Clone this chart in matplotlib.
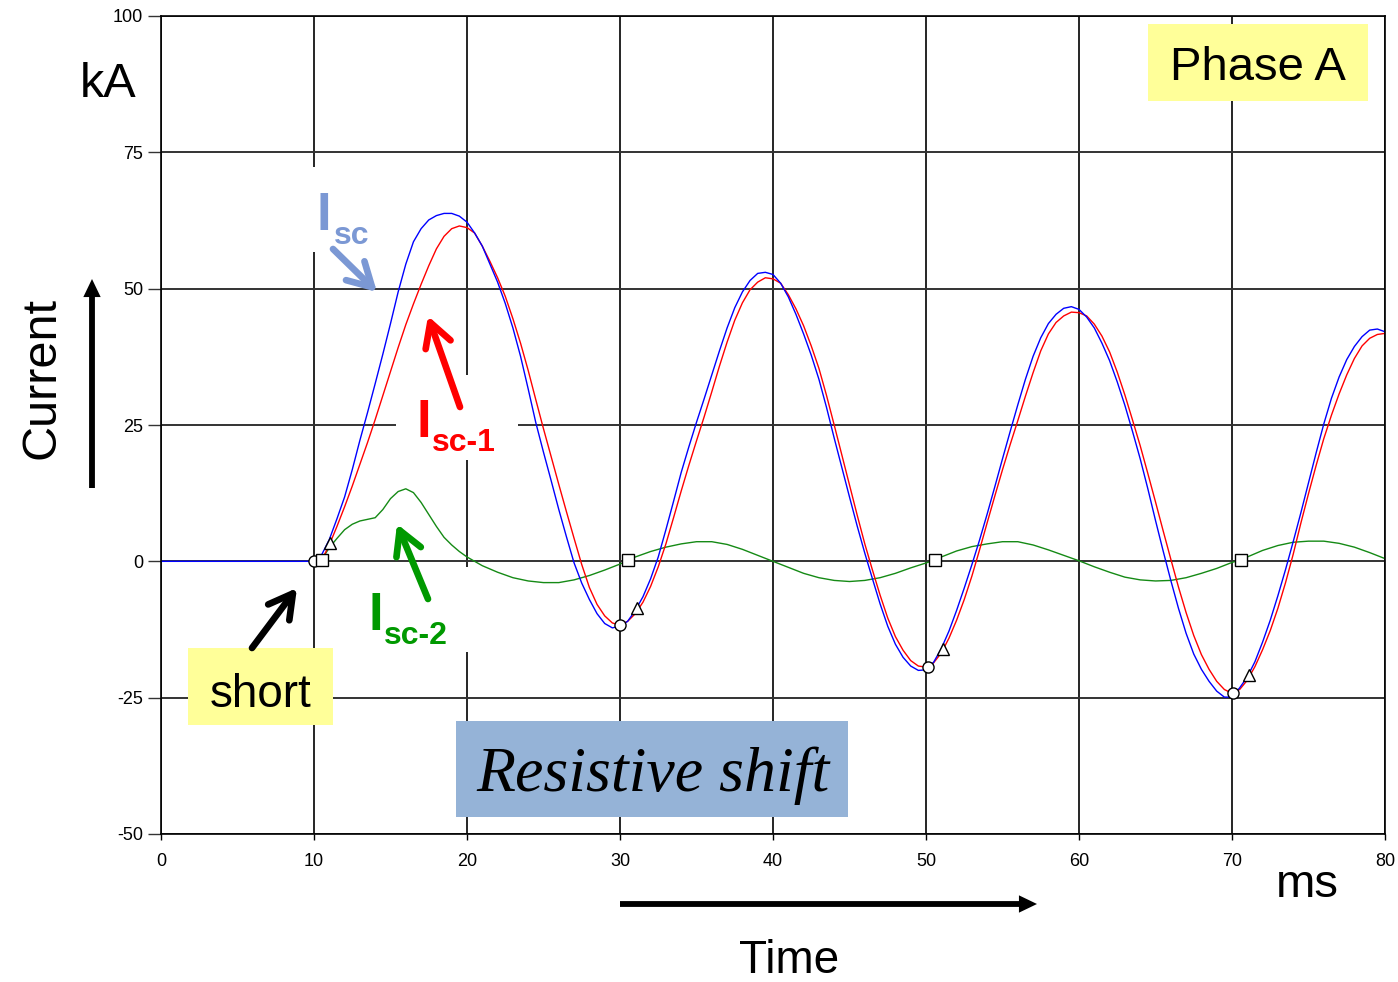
import matplotlib
matplotlib.use('Agg')
import matplotlib.pyplot as plt
from matplotlib.patches import Rectangle, FancyArrowPatch

plt.rcParams['font.family'] = ['Liberation Sans', 'DejaVu Sans']

# ---------------- data ----------------
x_ticks = [0, 10, 20, 30, 40, 50, 60, 70, 80]
x_tick_labels = ['0', '10', '20', '30', '40', '50', '60', '70', '80']
y_ticks = [-50, -25, 0, 25, 50, 75, 100]
y_tick_labels = ['-50', '-25', '0', '25', '50', '75', '100']

# Isc (blue)
isc_t = [0, 10, 10.5, 11.0, 11.5, 12.0, 12.5, 13.0, 13.5, 14.0, 14.5, 15.0, 15.5, 16.0, 16.5, 17.0, 17.5,
         18.0, 18.5, 19.0, 19.5, 20.0, 20.5, 21.0, 21.5, 22.0, 22.5, 23.0, 23.5, 24.0, 24.5, 25.0, 25.5,
         26.0, 26.5, 27.0, 27.5, 28.0, 28.5, 29.0, 29.5, 30.0, 30.5, 31.0, 31.5, 32.0, 32.5, 33.0, 33.5,
         34.0, 34.5, 35.0, 35.5, 36.0, 36.5, 37.0, 37.5, 38.0, 38.5, 39.0, 39.5, 40.0, 40.5, 41.0, 41.5,
         42.0, 42.5, 43.0, 43.5, 44.0, 44.5, 45.0, 45.5, 46.0, 46.5, 47.0, 47.5, 48.0, 48.5, 49.0, 49.5,
         50.0, 50.5, 51.0, 51.5, 52.0, 52.5, 53.0, 53.5, 54.0, 54.5, 55.0, 55.5, 56.0, 56.5, 57.0, 57.5,
         58.0, 58.5, 59.0, 59.5, 60.0, 60.5, 61.0, 61.5, 62.0, 62.5, 63.0, 63.5, 64.0, 64.5, 65.0, 65.5,
         66.0, 66.5, 67.0, 67.5, 68.0, 68.5, 69.0, 69.5, 70.0, 70.5, 71.0, 71.5, 72.0, 72.5, 73.0, 73.5,
         74.0, 74.5, 75.0, 75.5, 76.0, 76.5, 77.0, 77.5, 78.0, 78.5, 79.0, 79.5, 80.0]
isc_v = [0, 0, 1.2, 4.0, 7.8, 11.8, 16.8, 22.2, 27.3, 32.6, 38.0, 43.6, 49.4, 54.5, 58.6, 61.0, 62.6,
         63.4, 63.8, 63.8, 63.3, 62.2, 60.2, 57.8, 54.5, 51.2, 47.3, 42.8, 37.6, 31.6, 25.4, 20.0, 14.8,
         9.5, 4.5, -0.3, -4.0, -7.0, -9.6, -11.4, -12.2, -11.9, -11.0, -9.0, -6.5, -3.2, 0.8, 5.8, 11.0,
         16.3, 21.0, 25.5, 29.8, 34.2, 38.6, 42.8, 46.5, 49.4, 51.5, 52.8, 53.0, 52.6, 51.0, 48.5, 45.3,
         41.7, 37.8, 33.4, 28.2, 22.6, 17.2, 11.8, 6.5, 1.5, -3.2, -7.8, -11.9, -15.2, -17.6, -19.2, -20.0,
         -19.9, -18.5, -16.0, -12.8, -9.0, -4.9, -0.6, 3.9, 8.7, 13.7, 18.8, 23.8, 28.7, 33.4, 37.6, 41.0,
         43.6, 45.3, 46.4, 46.7, 46.2, 44.8, 42.8, 40.0, 36.8, 32.9, 28.6, 23.8, 18.8, 13.3, 7.5, 1.9,
         -3.5, -8.6, -13.2, -17.0, -19.8, -22.0, -23.8, -24.9, -24.9, -23.2, -21.2, -18.4, -14.8, -10.8, -6.3, -1.5,
         3.6, 8.9, 14.4, 19.9, 25.2, 29.9, 33.8, 37.0, 39.4, 41.2, 42.4, 42.6, 42.1]

# Isc-1 (red)
isc1_t = [10.5, 11.0, 11.5, 12.0, 12.5, 13.0, 13.5, 14.0, 14.5, 15.0, 15.5, 16.0, 16.5, 17.0, 17.5,
          18.0, 18.5, 19.0, 19.5, 20.0, 20.5, 21.0, 21.5, 22.0, 22.5, 23.0, 23.5, 24.0, 24.5, 25.0, 25.5,
          26.0, 26.5, 27.0, 27.5, 28.0, 28.5, 29.0, 29.5, 30.0, 30.5, 31.0, 31.5, 32.0, 32.5, 33.0, 33.5,
          34.0, 34.5, 35.0, 35.5, 36.0, 36.5, 37.0, 37.5, 38.0, 38.5, 39.0, 39.5, 40.0, 40.5, 41.0, 41.5,
          42.0, 42.5, 43.0, 43.5, 44.0, 44.5, 45.0, 45.5, 46.0, 46.5, 47.0, 47.5, 48.0, 48.5, 49.0, 49.5,
          50.0, 50.5, 51.0, 51.5, 52.0, 52.5, 53.0, 53.5, 54.0, 54.5, 55.0, 55.5, 56.0, 56.5, 57.0, 57.5,
          58.0, 58.5, 59.0, 59.5, 60.0, 60.5, 61.0, 61.5, 62.0, 62.5, 63.0, 63.5, 64.0, 64.5, 65.0, 65.5,
          66.0, 66.5, 67.0, 67.5, 68.0, 68.5, 69.0, 69.5, 70.0, 70.5, 71.0, 71.5, 72.0, 72.5, 73.0, 73.5,
          74.0, 74.5, 75.0, 75.5, 76.0, 76.5, 77.0, 77.5, 78.0, 78.5, 79.0, 79.5, 80.0]
isc1_v = [0.2, 3.0, 6.4, 10.0, 13.8, 17.8, 21.8, 26.0, 30.4, 34.8, 39.2, 43.4, 47.2, 50.8, 54.2,
          57.3, 59.6, 61.0, 61.5, 61.2, 60.2, 57.8, 55.0, 52.0, 48.6, 44.5, 40.0, 35.0, 29.6, 24.3, 19.2,
          14.1, 9.1, 4.2, -0.6, -4.8, -7.9, -10.0, -11.3, -11.7, -11.0, -9.6, -7.5, -4.6, -1.0, 3.2, 8.0,
          12.9, 17.6, 22.1, 26.5, 31.1, 35.8, 40.2, 44.2, 47.4, 49.8, 51.2, 52.0, 51.8, 51.0, 48.9, 46.3,
          43.2, 39.5, 35.4, 30.4, 25.0, 19.5, 14.0, 8.5, 3.2, -1.6, -6.2, -10.4, -13.8, -16.3, -18.2, -19.2,
          -19.4, -18.6, -16.8, -14.1, -10.8, -7.0, -2.7, 2.1, 7.1, 12.0, 16.8, 21.4, 25.8, 30.3, 34.6, 38.6,
          41.7, 43.8, 45.0, 45.7, 45.6, 45.0, 43.5, 41.3, 38.4, 34.7, 30.5, 25.9, 21.2, 16.1, 10.9, 5.6,
          0.4, -4.7, -9.4, -13.6, -17.1, -19.8, -22.0, -23.5, -24.2, -23.5, -21.8, -19.3, -16.2, -12.7, -8.6, -3.9,
          1.3, 7.0, 12.4, 17.6, 22.5, 26.8, 30.7, 34.2, 37.2, 39.5, 40.9, 41.6, 41.8]

# Isc-2 (green)
isc2_t = [10.5, 11.0, 11.5, 12.0, 12.5, 13.0, 13.5, 14.0, 14.5, 15.0, 15.5, 16.0, 16.5, 17.0, 17.5,
          18.0, 18.5, 19.0, 19.5, 20.0, 21.0, 22.0, 23.0, 24.0, 25.0, 26.0, 27.0, 28.0, 29.0, 30.0, 30.5,
          31.0, 32.0, 33.0, 34.0, 35.0, 36.0, 37.0, 38.0, 39.0, 40.0, 41.0, 42.0, 43.0, 44.0, 45.0, 46.0,
          47.0, 48.0, 49.0, 50.0, 50.6, 51.0, 52.0, 53.0, 54.0, 55.0, 56.0, 57.0, 58.0, 59.0, 60.0, 61.0,
          62.0, 63.0, 64.0, 65.0, 66.0, 67.0, 68.0, 69.0, 70.0, 70.6, 71.0, 72.0, 73.0, 74.0, 75.0, 76.0,
          77.0, 78.0, 79.0, 80.0]
isc2_v = [0.3, 2.5, 4.2, 5.8, 6.8, 7.4, 7.7, 8.0, 9.5, 11.5, 12.8, 13.3, 12.6, 10.8, 8.6,
          6.4, 4.4, 3.0, 1.8, 0.8, -0.8, -2.0, -3.0, -3.6, -3.9, -3.9, -3.4, -2.6, -1.6, -0.5, 0.2,
          0.8, 1.8, 2.6, 3.2, 3.6, 3.6, 3.1, 2.2, 1.1, 0.0, -1.1, -2.2, -3.0, -3.5, -3.7, -3.5,
          -3.0, -2.2, -1.2, -0.3, 0.3, 0.8, 1.9, 2.7, 3.2, 3.6, 3.6, 3.0, 2.1, 1.1, 0.1, -1.0,
          -2.0, -2.9, -3.4, -3.6, -3.5, -3.0, -2.2, -1.3, -0.2, 0.3, 0.8, 2.0, 2.9, 3.5, 3.7, 3.7,
          3.3, 2.6, 1.6, 0.5]

# event markers
circle_t = [10.0, 30.0, 50.1, 70.05]
circle_v = [0.0, -11.7, -19.4, -24.1]
square_t = [10.55, 30.5, 50.6, 70.6]
square_v = [0.2, 0.2, 0.2, 0.2]
tri_t = [11.05, 31.1, 51.1, 71.1]
tri_v = [3.3, -8.6, -16.0, -20.9]

# ---------------- figure ----------------
W, H = 1398, 982
fig = plt.figure(figsize=(W / 100, H / 100), dpi=100)
fig.patch.set_facecolor('white')


def fx(px):
    return px / W


def fy(py):
    return 1 - py / H


ax = fig.add_axes([fx(161), fy(834), (1385 - 161) / W, (834 - 16) / H])
ax.set_xlim(0, 80)
ax.set_ylim(-50, 100)
ax.set_xticks(x_ticks)
ax.set_xticklabels(x_tick_labels)
ax.set_yticks(y_ticks)
ax.set_yticklabels(y_tick_labels)
ax.tick_params(axis='y', length=9.5, width=1.0, pad=3.5, labelsize=13, color='#333333')
ax.tick_params(axis='x', length=4.5, width=1.0, pad=9, labelsize=13)
ax.set_axisbelow(True)
ax.grid(True, axis='x', color='black', lw=1.2)
ax.grid(True, axis='y', color='#333333', lw=1.4)
for s in ax.spines.values():
    s.set_linewidth(1.2)
    s.set_color('black')

ax.plot(isc2_t, isc2_v, color='#158a15', lw=1.0, zorder=2)
ax.plot(isc1_t, isc1_v, color='#ff0000', lw=1.0, zorder=2.1)
ax.plot(isc_t, isc_v, color='#0000ff', lw=1.0, zorder=2.2)

mk = dict(ls='none', markerfacecolor='white', markeredgecolor='black', markeredgewidth=1.0, zorder=4,
          clip_on=False)
ax.plot(circle_t, circle_v, marker='o', ms=8, **mk)
ax.plot(square_t, square_v, marker='s', ms=8, **mk)
ax.plot(tri_t, tri_v, marker='^', ms=8, **mk)


def box(x0, y0, x1, y1, color, z=1.5):
    r = Rectangle((fx(x0), fy(y1)), (x1 - x0) / W, (y1 - y0) / H, transform=fig.transFigure,
                  facecolor=color, edgecolor='none', zorder=z, clip_on=False)
    ax.add_artist(r)


# white backgrounds behind the curve labels (they interrupt the grid)
box(305, 167, 385, 252, 'white', 1.2)
box(396, 375, 518, 460, 'white', 1.2)
box(365, 567, 470, 652, 'white', 1.2)
# coloured label boxes
box(1148, 24, 1368, 101, '#ffff99', 1.5)
box(188, 648, 333, 725, '#ffff99', 1.5)
box(456, 721, 848, 817, '#95b3d7', 1.5)


def arrow(p0, p1, color, lw, style, ms=1):
    a = FancyArrowPatch((fx(p0[0]), fy(p0[1])), (fx(p1[0]), fy(p1[1])), transform=fig.transFigure,
                        arrowstyle=style, mutation_scale=ms, lw=lw, color=color,
                        shrinkA=0, shrinkB=0, zorder=5)
    fig.patches.append(a)


# axis arrows (filled)
arrow((92, 488), (92, 279), 'black', 0, 'simple,head_length=13,head_width=12.5,tail_width=4.2')
arrow((620, 904), (1037, 904), 'black', 0, 'simple,head_length=13,head_width=12.5,tail_width=4.2')
# label arrows (chevron heads)
chev = '->,head_length=1.7,head_width=0.95'
arrow((333, 249), (377, 292), '#7b98d4', 4.8, chev, 10)
arrow((460, 407), (428, 316), '#ff0000', 4.8, chev, 10)
arrow((428, 599), (397, 524), '#009900', 4.8, chev, 10)
arrow((252, 648), (297, 588), 'black', 4.8, chev, 10)

# texts
fig.text(fx(80), fy(97), 'kA', fontsize=35, ha='left', va='baseline')
fig.text(fx(55), fy(378), 'Current', fontsize=35, rotation=90, rotation_mode='anchor',
         ha='center', va='baseline')
fig.text(fx(789), fy(973), 'Time', fontsize=33, ha='center', va='baseline')
fig.text(fx(1307), fy(897), 'ms', fontsize=34, ha='center', va='baseline')
fig.text(fx(1258), fy(80), 'Phase A', fontsize=34, ha='center', va='baseline', zorder=6)
fig.text(fx(261), fy(707), 'short', fontsize=33, ha='center', va='baseline', zorder=6)
fig.text(fx(653), fy(791), 'Resistive shift', fontsize=46, ha='center', va='baseline',
         family=['Liberation Serif', 'DejaVu Serif'], style='italic', zorder=6)

# curve labels: large "I" + subscript
lab = [((317, 230), (334, 244), 'sc', '#7b98d4'),
       ((417, 437), (432, 451), 'sc-1', '#ff0000'),
       ((369, 630), (384, 644), 'sc-2', '#009900')]
for (ip, sp, sub, col) in lab:
    fig.text(fx(ip[0]), fy(ip[1]), 'I', fontsize=38, fontweight='bold', color=col, ha='left',
             va='baseline', zorder=6)
    fig.text(fx(sp[0]), fy(sp[1]), sub, fontsize=23, fontweight='bold', color=col, ha='left',
             va='baseline', zorder=6)

fig.savefig('out.png', dpi=100)
